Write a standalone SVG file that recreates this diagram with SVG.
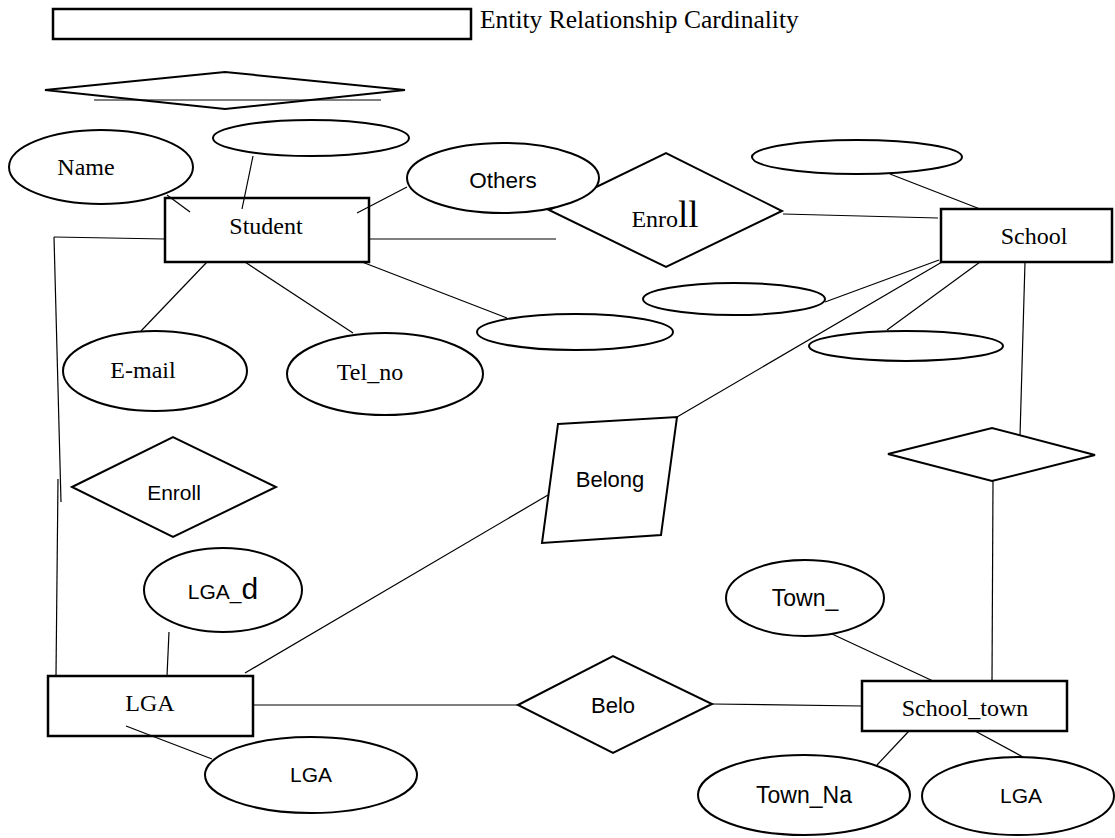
<svg xmlns="http://www.w3.org/2000/svg" width="1115" height="838" viewBox="0 0 1115 838">
<style>
.sh{fill:#fff;stroke:#000;stroke-width:2}
.rc{fill:none;stroke:#000;stroke-width:2.5}
.ln{stroke:#000;stroke-width:1.2;fill:none}
.sf{font-family:"Liberation Serif",serif;font-size:24px;fill:#000;text-anchor:middle}
.ss{font-family:"Liberation Sans",sans-serif;font-size:21px;fill:#000;text-anchor:middle}
</style>
<rect width="1115" height="838" fill="#fff"/>
<g id="legend">
<rect x="53" y="9" width="418" height="30" class="rc"/>
<text x="480" y="28" style="font-family:'Liberation Serif',serif;font-size:25.5px">Entity Relationship Cardinality</text>
<polygon points="45,90 225,72 405,90 225,109" class="sh"/>
<line x1="94" y1="100" x2="381" y2="100" class="ln"/>
</g>
<g id="enroll-top">
<polygon points="549,210 666,153 782,211 666,267" class="sh"/>
<text x="665" y="227" class="sf"><tspan>Enro</tspan><tspan style="font-size:37px">ll</tspan></text>
</g>
<g id="name"><ellipse cx="101" cy="167" rx="92" ry="37" class="sh"/><text x="86" y="175" class="sf">Name</text></g>
<g id="attr-top"><ellipse cx="311" cy="138" rx="98" ry="18" class="sh"/></g>
<g id="others"><ellipse cx="503" cy="178" rx="96" ry="35" class="sh"/><text x="503" y="188" class="ss" style="font-size:22.5px">Others</text></g>
<g id="student"><rect x="165" y="198" width="204" height="64" class="rc"/><text x="266" y="234" class="sf">Student</text></g>
<g id="school-attr-top"><ellipse cx="857" cy="157" rx="105" ry="17" class="sh"/></g>
<g id="school"><rect x="941" y="209" width="171" height="53" class="rc"/><text x="1034" y="244" class="sf">School</text></g>
<g id="attr-mid"><ellipse cx="734" cy="299" rx="91" ry="16" class="sh"/></g>
<g id="attr-low"><ellipse cx="575" cy="332" rx="98" ry="18" class="sh"/></g>
<g id="attr-right"><ellipse cx="906" cy="346" rx="97" ry="15" class="sh"/></g>
<g id="email"><ellipse cx="155" cy="371" rx="92" ry="40" class="sh"/><text x="143" y="378" class="sf">E-mail</text></g>
<g id="telno"><ellipse cx="385" cy="374" rx="98" ry="41" class="sh"/><text x="370" y="380" class="sf">Tel_no</text></g>
<g id="enroll-left"><polygon points="72,487 173,437 276,487 173,537" class="sh"/><text x="174" y="500" class="ss">Enroll</text></g>
<g id="belong"><polygon points="558,424 677,417 661,535 542,543" class="sh"/><text x="610" y="487" class="ss" style="font-size:22px">Belong</text></g>
<g id="rel-right"><polygon points="888,454 992,428 1095,455 992,481" class="sh"/></g>
<g id="lga-d"><ellipse cx="223" cy="590" rx="79" ry="42" class="sh"/><text x="223" y="599" class="ss"><tspan>LGA_</tspan><tspan style="font-size:30px">d</tspan></text></g>
<g id="town"><ellipse cx="805" cy="598" rx="79" ry="38" class="sh"/><text x="805" y="606" class="ss" style="font-size:23px">Town_</text></g>
<g id="lga"><rect x="48" y="676" width="205" height="60" class="rc"/><text x="150" y="711" class="sf">LGA</text></g>
<g id="belo"><polygon points="518,705 613,656 712,704 613,753" class="sh"/><text x="613" y="713" class="ss" style="font-size:22px">Belo</text></g>
<g id="school-town"><rect x="862" y="681" width="205" height="50" class="rc"/><text x="965" y="716" class="sf">School_town</text></g>
<g id="lga-attr"><ellipse cx="311" cy="775" rx="106" ry="38" class="sh"/><text x="311" y="782" class="ss">LGA</text></g>
<g id="town-na"><ellipse cx="804" cy="795" rx="106" ry="40" class="sh"/><text x="804" y="803" class="ss" style="font-size:23px">Town_Na</text></g>
<g id="lga-attr2"><ellipse cx="1018" cy="796" rx="96" ry="39" class="sh"/><text x="1021" y="803" class="ss">LGA</text></g>
<g id="connectors">
<line x1="167" y1="195" x2="190" y2="212" class="ln"/>
<line x1="253" y1="156" x2="242" y2="209" class="ln"/>
<line x1="407" y1="187" x2="357" y2="213" class="ln"/>
<line x1="369" y1="239" x2="556" y2="239" class="ln"/>
<line x1="165" y1="239" x2="54" y2="237" class="ln"/>
<line x1="54" y1="237" x2="61" y2="502" class="ln"/>
<line x1="58" y1="479" x2="56" y2="676" class="ln"/>
<line x1="207" y1="262" x2="141" y2="331" class="ln"/>
<line x1="245" y1="262" x2="353" y2="333" class="ln"/>
<line x1="362" y1="262" x2="507" y2="318" class="ln"/>
<line x1="783" y1="214" x2="938" y2="218" class="ln"/>
<line x1="890" y1="174" x2="980" y2="209" class="ln"/>
<line x1="825" y1="302" x2="939" y2="260" class="ln"/>
<line x1="942" y1="262" x2="677" y2="417" class="ln"/>
<line x1="980" y1="262" x2="887" y2="330" class="ln"/>
<line x1="1025" y1="262" x2="1020" y2="436" class="ln"/>
<line x1="993" y1="481" x2="992" y2="681" class="ln"/>
<line x1="548" y1="495" x2="245" y2="673" class="ln"/>
<line x1="169" y1="632" x2="167" y2="676" class="ln"/>
<line x1="126" y1="726" x2="212" y2="759" class="ln"/>
<line x1="253" y1="705" x2="518" y2="705" class="ln"/>
<line x1="712" y1="704" x2="862" y2="706" class="ln"/>
<line x1="832" y1="634" x2="933" y2="681" class="ln"/>
<line x1="909" y1="731" x2="877" y2="765" class="ln"/>
<line x1="975" y1="731" x2="1023" y2="757" class="ln"/>
</g>
</svg>
